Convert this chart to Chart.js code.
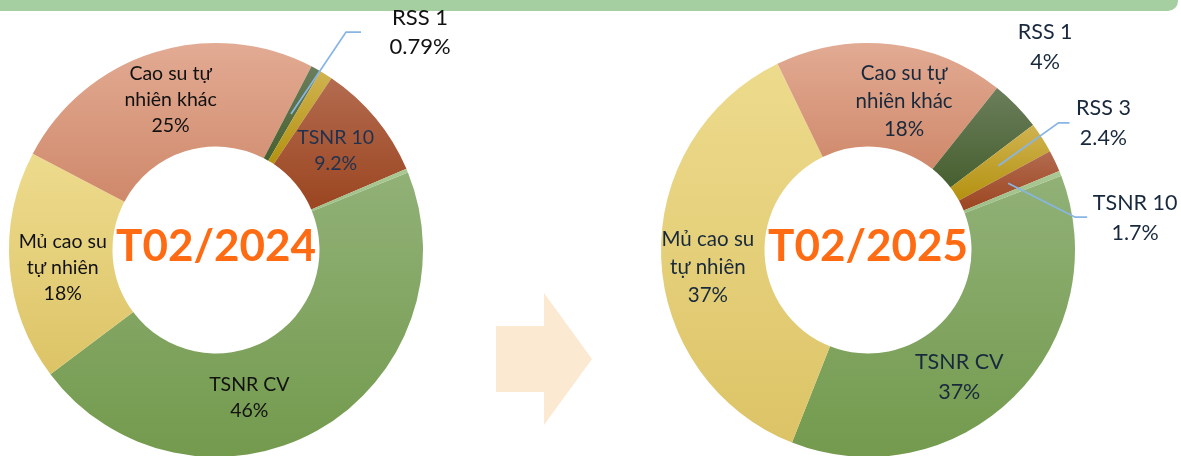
<!DOCTYPE html>
<html lang="vi">
<head>
<meta charset="UTF-8">
<title>Cơ cấu sản phẩm cao su T02</title>
<script src="https://cdn.jsdelivr.net/npm/chart.js"></script>
<style>
  html, body { margin: 0; padding: 0; }
  body {
    width: 1181px;
    height: 456px;
    overflow: hidden;
    position: relative;
    background: #fff;
    font-family: Lato, sans-serif;
  }
  .band {
    position: absolute;
    left: 0; top: 0;
    width: 1178px; height: 11px;
    background: #a5cfa0;
    border-bottom-right-radius: 10px;
  }
  .arrow {
    position: absolute;
    left: 496px; top: 293px;
    width: 96px; height: 132px;
    background: #fce9d1;
    clip-path: polygon(0 33px, 48px 33px, 48px 0, 96px 66px, 48px 132px, 48px 99px, 0 99px);
  }
  canvas { position: absolute; top: 0; }
  #chart2024 { left: 0; }
  #chart2025 { left: 600px; }
</style>
</head>
<body>
<div class="band"></div>
<div class="arrow"></div>
<canvas id="chart2024" width="590" height="470"></canvas>
<canvas id="chart2025" width="581" height="470"></canvas>

<script>
// product mix, % of volume
const categories = ['TSNR CV', 'Mủ cao su tự nhiên', 'Cao su tự nhiên khác', 'RSS 1', 'RSS 3', 'TSNR 10', 'Khác'];
const categoryLines = [['TSNR CV'], ['Mủ cao su', 'tự nhiên'], ['Cao su tự', 'nhiên khác'], ['RSS 1'], ['RSS 3'], ['TSNR 10'], []];
const share2024 = [46, 18, 25, 0.79, 1.0, 9.2, 0.3];
const share2025 = [37, 37, 18, 4, 2.4, 1.7, 0.4];
const periods = ['T02/2024', 'T02/2025'];

// slice colours, light at the top of each slice, darker at the bottom
const topColors = ['#91b177', '#eddb8d', '#e2ab93', '#6b7e5b', '#d0b350', '#b36b4f', '#aac994'];
const bottomColors = ['#739a4d', '#dcc366', '#cf886a', '#465f2f', '#b3910f', '#9b4520', '#9dbe86'];

function sliceFill(context) {
  const chart = context.chart;
  const i = context.dataIndex;
  const area = chart.chartArea;
  if (!area) return topColors[i];
  const data = context.dataset.data;
  const total = data.reduce((s, v) => s + v, 0);
  let before = 0;
  for (let k = 0; k < i; k++) before += data[k];
  const rot = (chart.options.rotation - 90) * Math.PI / 180;
  const a0 = rot + before / total * Math.PI * 2;
  const a1 = a0 + data[i] / total * Math.PI * 2;
  const cx = (area.left + area.right) / 2;
  const cy = (area.top + area.bottom) / 2;
  const R = Math.min(area.width, area.height) / 2;
  let minY = Infinity, maxY = -Infinity;
  for (let s = 0; s <= 40; s++) {
    const a = a0 + (a1 - a0) * s / 40;
    [R, R * 0.5].forEach(r => {
      const y = cy + Math.sin(a) * r;
      minY = Math.min(minY, y);
      maxY = Math.max(maxY, y);
    });
  }
  const g = chart.ctx.createLinearGradient(0, minY, 0, maxY + 1);
  g.addColorStop(0, topColors[i]);
  g.addColorStop(1, bottomColors[i]);
  return g;
}

// labels on/next to slices plus the period title in the hole
const sliceLabels = {
  id: 'sliceLabels',
  afterDatasetsDraw(chart, args, opts) {
    const ctx = chart.ctx;
    const meta = chart.getDatasetMeta(0);
    const values = chart.data.datasets[0].data;
    ctx.save();
    ctx.textAlign = 'center';
    ctx.textBaseline = 'middle';
    opts.items.forEach(item => {
      const arc = meta.data[item.index];
      const p = arc.getCenterPoint();
      if (item.leader) {
        ctx.strokeStyle = '#88b6e4';
        ctx.lineWidth = 1.8;
        ctx.beginPath();
        ctx.moveTo(p.x, p.y);
        item.leader.forEach(pt => ctx.lineTo(p.x + pt[0], p.y + pt[1]));
        ctx.stroke();
      }
      const lines = categoryLines[item.index].concat([values[item.index] + '%']);
      const size = item.size || opts.size;
      const lh = item.lineHeight || opts.lineHeight;
      ctx.font = size + 'px Lato';
      ctx.fillStyle = item.color || opts.color;
      const x = p.x + item.dx;
      const y0 = p.y + item.dy - (lines.length - 1) * lh / 2;
      lines.forEach((t, k) => ctx.fillText(t, x, y0 + k * lh));
    });
    const first = meta.data[0];
    ctx.font = 'bold 44px Lato';
    ctx.fillStyle = '#ff6b12';
    ctx.textBaseline = 'alphabetic';
    ctx.fillText(opts.title, first.x, first.y + 11);
    ctx.restore();
  }
};

function makeDonut(id, values, rotation, padding, labelOpts) {
  return new Chart(document.getElementById(id), {
    type: 'doughnut',
    data: {
      labels: categories,
      datasets: [{
        data: values,
        backgroundColor: sliceFill,
        borderWidth: 0
      }]
    },
    options: {
      responsive: false,
      animation: false,
      events: [],
      rotation: rotation,
      cutout: '50%',
      layout: { padding: padding },
      plugins: {
        legend: { display: false },
        tooltip: { enabled: false },
        sliceLabels: labelOpts
      }
    },
    plugins: [sliceLabels]
  });
}

makeDonut('chart2024', share2024, 68,
  { left: 9, top: 43, right: 167, bottom: 13 },
  {
    title: periods[0],
    size: 19.5,
    lineHeight: 26,
    color: '#111111',
    items: [
      { index: 0, dx: -43, dy: 13 },
      { index: 1, dx: 1.5, dy: 5 },
      { index: 2, dx: 1, dy: -2 },
      { index: 5, dx: 0, dy: 0, color: '#1e3250' },
      { index: 3, dx: 129, dy: -82, size: 22, lineHeight: 29, leader: [[55, -82], [70, -82]] }
    ]
  });

makeDonut('chart2025', share2025, 69,
  { left: 61, top: 43, right: 106, bottom: 13 },
  {
    title: periods[1],
    size: 20.5,
    lineHeight: 28,
    color: '#18293d',
    items: [
      { index: 0, dx: -18, dy: 17, size: 21.5, lineHeight: 30 },
      { index: 1, dx: -5, dy: 11 },
      { index: 2, dx: 19, dy: 6 },
      { index: 3, dx: 66, dy: -95, size: 21.5, lineHeight: 30 },
      { index: 4, dx: 105, dy: -43, size: 21.5, lineHeight: 30, leader: [[60, -43], [71, -43]] },
      { index: 5, dx: 127, dy: 35, size: 21.5, lineHeight: 30, leader: [[67, 34], [79, 34]] }
    ]
  });
</script>
</body>
</html>
